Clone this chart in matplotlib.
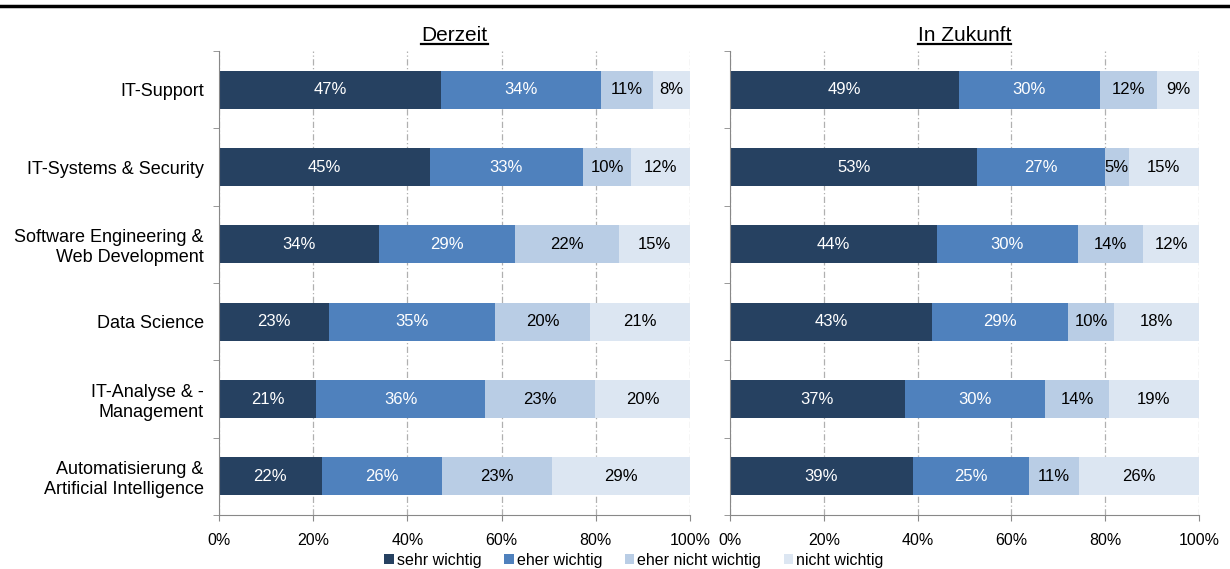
import matplotlib.pyplot as plt
import numpy as np

# ── DATA ──────────────────────────────────────────────────────────────────────
categories = ['IT-Support', 'IT-Systems & Security',
              'Software Engineering &\nWeb Development', 'Data Science',
              'IT-Analyse & -\nManagement',
              'Automatisierung &\nArtificial Intelligence']
series = ['sehr wichtig', 'eher wichtig', 'eher nicht wichtig', 'nicht wichtig']

# Derzeit (%)
now_sehr      = [47.2, 44.7, 34.0, 23.3, 20.7, 21.8]
now_eher      = [34.0, 32.6, 28.9, 35.3, 35.8, 25.5]
now_eher_nich = [10.9, 10.2, 22.1, 20.2, 23.3, 23.3]
now_nicht     = [7.9, 12.5, 15.0, 21.2, 20.2, 29.4]

# In Zukunft (%)
fut_sehr      = [48.8, 52.7, 44.1, 43.1, 37.3, 39.0]
fut_eher      = [30.1, 27.3, 30.1, 29.0, 29.9, 24.7]
fut_eher_nich = [12.1, 5.0, 13.9, 9.8, 13.6, 10.7]
fut_nicht     = [9.0, 15.0, 11.9, 18.1, 19.2, 25.6]

colors = ['#264161', '#4f81bd', '#b9cde5', '#dce6f2']
text_colors = ['white', 'white', 'black', 'black']

plt.rcParams['font.family'] = ['Liberation Sans', 'DejaVu Sans']

fig = plt.figure(figsize=(12.3, 5.69), dpi=100)
W, H = 1230, 569
ax1 = fig.add_axes([219 / W, 1 - 515 / H, 471 / W, 464 / H])
ax2 = fig.add_axes([730 / W, 1 - 515 / H, 469 / W, 464 / H])

y = np.arange(len(categories))


def draw_panel(ax, data, title):
    left = np.zeros(len(categories))
    for vals, col, tcol, name in zip(data, colors, text_colors, series):
        vals = np.array(vals)
        ax.barh(y, vals, left=left, height=0.49, color=col, label=name,
                zorder=2, edgecolor='none')
        for yi, l, v in zip(y, left, vals):
            ax.text(l + v / 2, yi, f'{v:.0f}%', ha='center', va='center',
                    color=tcol, fontsize=12, zorder=3)
        left += vals
    ax.set_xlim(0, 100)
    ax.set_ylim(len(categories) - 0.5, -0.5)
    ax.set_xticks(np.arange(0, 101, 20))
    ax.set_xticklabels([f'{t}%' for t in range(0, 101, 20)], fontsize=11.5)
    ax.xaxis.grid(True, color='#b0b0b0', linestyle=(0, (5, 2, 1, 2)),
                  linewidth=0.9, zorder=0)
    ax.set_axisbelow(True)
    for s in ['top', 'right']:
        ax.spines[s].set_visible(False)
    for s in ['left', 'bottom']:
        ax.spines[s].set_color('#888888')
    ax.tick_params(axis='x', length=4, color='#888888', pad=9)
    ax.set_yticks(y)
    ax.set_yticks(np.arange(-0.5, len(categories), 1), minor=True)
    ax.tick_params(axis='y', which='major', length=0, pad=11)
    ax.tick_params(axis='y', which='minor', length=4, color='#888888')
    ax.set_title(title, fontsize=15, pad=7)


draw_panel(ax1, [now_sehr, now_eher, now_eher_nich, now_nicht], 'Derzeit')
draw_panel(ax2, [fut_sehr, fut_eher, fut_eher_nich, fut_nicht], 'In Zukunft')
ax1.set_yticklabels(categories, fontsize=13, linespacing=1.2)
ax2.set_yticklabels([])

# underline the titles
fig.canvas.draw()
renderer = fig.canvas.get_renderer()
for ax in (ax1, ax2):
    bb = ax.title.get_window_extent(renderer).transformed(fig.transFigure.inverted())
    fig.add_artist(plt.Line2D([bb.x0, bb.x1], [bb.y0 + 0.002, bb.y0 + 0.002],
                              transform=fig.transFigure, color='black', lw=1.6))

# top rule
fig.add_artist(plt.Line2D([0, 1], [1 - 6 / H, 1 - 6 / H], transform=fig.transFigure,
                          color='black', lw=2.5))

handles, labels = ax1.get_legend_handles_labels()
fig.legend(handles, labels, loc='center', bbox_to_anchor=(634 / W, 1 - 560 / H),
           ncol=4, frameon=False, fontsize=11.5, handlelength=0.6, handleheight=0.6,
           handletextpad=0.2, columnspacing=1.4, borderpad=0)

plt.savefig('out.png', dpi=100)
